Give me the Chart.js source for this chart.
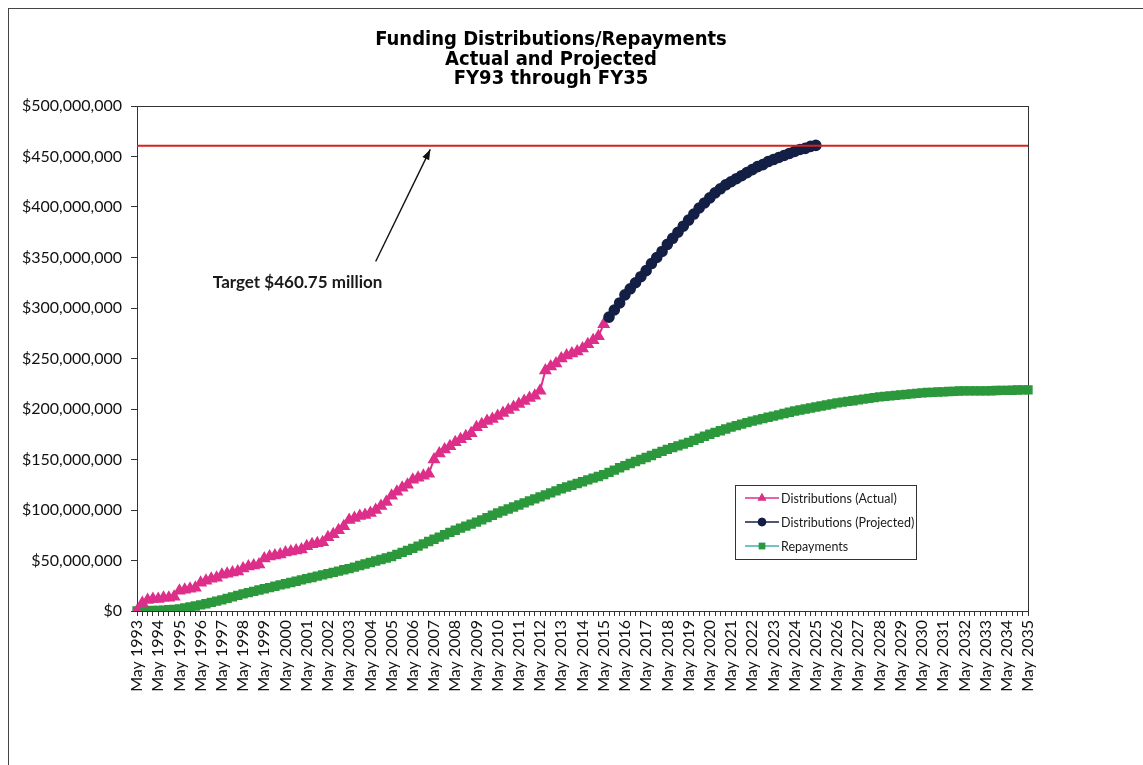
<!DOCTYPE html>
<html>
<head>
<meta charset="utf-8">
<title>Funding Distributions/Repayments</title>
<script src="https://cdn.jsdelivr.net/npm/chart.js@4.4.1/dist/chart.umd.min.js"></script>
<style>
  html, body { margin: 0; padding: 0; background: #fff; overflow: hidden; }
  #frame { position: absolute; left: 8px; top: 8px; width: 1200px; height: 800px;
           border-left: 1px solid #444; border-top: 1px solid #444; }
  #wrap { position: absolute; left: 0; top: 0; width: 1143px; height: 765px; }
</style>
</head>
<body>
<div id="frame"></div>
<div id="wrap"><canvas id="fundingChart"></canvas></div>
<script>
// quarterly periods, May 1993 .. May 2035
const firstYear = 1993;
const lastYear = 2035;
const quarterMonths = ['May', 'Aug', 'Nov', 'Feb'];

// values in millions of dollars, one row per fiscal year (May, Aug, Nov, Feb)
const actualDistributions = [
  0, 8, 11, 12,
  12, 13, 13, 14,
  20, 21, 22, 23,
  28, 30, 32, 33,
  36, 37, 38, 39,
  42, 44, 45, 46,
  52, 54, 55, 56,
  58, 59, 60, 61,
  64, 66, 67, 68,
  73, 76, 80, 84,
  90, 92, 94, 95,
  97, 100, 104, 108,
  114, 118, 122, 125,
  130, 132, 134, 136,
  150, 156, 160, 163,
  167, 170, 173, 176,
  182, 185, 188, 190,
  193, 196, 199, 202,
  205, 208, 211, 213,
  218, 238, 242, 245,
  250, 253, 255, 257,
  260, 264, 268, 272,
  284
];

// projected series starts the quarter after the last actual figure
const projectedStart = actualDistributions.length;
const projectedDistributions = [
  291, 298, 305,
  313, 319, 325, 331,
  337, 344, 350, 356,
  363, 369, 375, 381,
  387, 393, 399, 404,
  409, 414, 418, 422,
  425, 428, 431, 434,
  437, 440, 442, 445,
  447, 449, 451, 453,
  455, 457, 458, 460,
  461
];

const repayments = [
  0, 0.2, 0.4, 0.5,
  0.6, 0.9, 1.2, 1.6,
  2, 3, 4, 5,
  6, 7.2, 8.5, 9.8,
  11, 12.5, 14, 15.5,
  17, 18.2, 19.5, 20.8,
  22, 23.2, 24.5, 25.8,
  27, 28.2, 29.5, 30.8,
  32, 33.2, 34.5, 35.8,
  37, 38.2, 39.5, 40.8,
  42, 43.5, 45, 46.5,
  48, 49.5, 51, 52.5,
  54, 56, 58, 60,
  62, 64.2, 66.5, 68.8,
  71, 73.2, 75.5, 77.8,
  80, 82, 84, 86,
  88, 90.2, 92.5, 94.8,
  97, 99, 101, 103,
  105, 107, 109, 111,
  113, 115, 117, 119,
  121, 122.8, 124.5, 126.2,
  128, 129.8, 131.5, 133.2,
  135, 137.2, 139.5, 141.8,
  144, 146, 148, 150,
  152, 154, 156, 158,
  160, 161.8, 163.5, 165.2,
  167, 169, 171, 173,
  175, 176.8, 178.5, 180.2,
  182, 183.5, 185, 186.5,
  188, 189.2, 190.5, 191.8,
  193, 194.2, 195.5, 196.8,
  198, 199, 200, 201,
  202, 203, 204, 205,
  206, 206.8, 207.5, 208.2,
  209, 209.8, 210.5, 211.2,
  212, 212.5, 213, 213.5,
  214, 214.5, 215, 215.5,
  216, 216.3, 216.5, 216.8,
  217, 217.3, 217.5, 217.8,
  218, 218, 218, 218,
  218, 218.1, 218.3, 218.4,
  218.5, 218.6, 218.8, 218.9,
  219
];

const targetValue = 460.75;
const yTicks = [0, 50, 100, 150, 200, 250, 300, 350, 400, 450, 500];

const titleLines = ['Funding Distributions/Repayments', 'Actual and Projected', 'FY93 through FY35'];

// build quarter labels; Feb falls in the following calendar year
const labels = [];
for (let y = firstYear; y < lastYear; y++) {
  quarterMonths.forEach(m => labels.push(m + ' ' + (m === 'Feb' ? y + 1 : y)));
}
labels.push(quarterMonths[0] + ' ' + lastYear);

const actualData = labels.map((_, i) => i < actualDistributions.length ? actualDistributions[i] : null);
const projectedData = labels.map((_, i) => {
  const k = i - projectedStart;
  return k >= 0 && k < projectedDistributions.length ? projectedDistributions[k] : null;
});
const targetData = labels.map(() => targetValue);

const COLORS = {
  actual: '#dd2f8a',
  projected: '#141f45',
  repayLine: '#41b2ad',
  repayPoint: '#2c983c',
  target: '#d8201c'
};

const TICK_FONT = { family: 'Lato, "Open Sans", sans-serif', size: 16 };

// title, annotation, legend and plot frame
const decorations = {
  id: 'decorations',
  beforeDatasetsDraw(chart) {
    const { ctx, chartArea: a } = chart;
    ctx.save();
    ctx.strokeStyle = '#333';
    ctx.lineWidth = 1;
    ctx.strokeRect(a.left + 0.5, a.top + 0.5, a.right - a.left, a.bottom - a.top);
    ctx.restore();
  },
  afterDraw(chart) {
    const { ctx, scales: { x, y } } = chart;
    ctx.save();

    // title
    ctx.fillStyle = '#000';
    ctx.font = 'bold 20px "DejaVu Sans Condensed", "DejaVu Sans", sans-serif';
    ctx.textAlign = 'center';
    ctx.textBaseline = 'middle';
    titleLines.forEach((t, i) => ctx.fillText(t, 551, 40 + i * 19.5));

    // target arrow + label
    const tailX = x.getPixelForValue(45), tailY = y.getPixelForValue(346);
    const headX = x.getPixelForValue(55.3), headY = y.getPixelForValue(457);
    ctx.strokeStyle = '#111';
    ctx.fillStyle = '#111';
    ctx.lineWidth = 1.4;
    ctx.beginPath();
    ctx.moveTo(tailX, tailY);
    ctx.lineTo(headX, headY);
    ctx.stroke();
    const ang = Math.atan2(headY - tailY, headX - tailX);
    ctx.beginPath();
    ctx.moveTo(headX, headY);
    ctx.lineTo(headX - 11 * Math.cos(ang - 0.35), headY - 11 * Math.sin(ang - 0.35));
    ctx.lineTo(headX - 11 * Math.cos(ang + 0.35), headY - 11 * Math.sin(ang + 0.35));
    ctx.closePath();
    ctx.fill();

    ctx.font = 'bold 17px Lato, "Open Sans", sans-serif';
    ctx.textAlign = 'left';
    ctx.fillStyle = '#1a1a1a';
    ctx.fillText('Target $' + targetValue.toFixed(2) + ' million', x.getPixelForValue(14.3), y.getPixelForValue(325));

    // legend box
    const lx = 735, ly = 485, lw = 181, lh = 74;
    ctx.fillStyle = '#fff';
    ctx.fillRect(lx, ly, lw, lh);
    ctx.strokeStyle = '#333';
    ctx.lineWidth = 1;
    ctx.strokeRect(lx + 0.5, ly + 0.5, lw, lh);

    const items = chart.data.datasets.filter(d => d.inLegend);
    ctx.font = '12.5px Lato, "Open Sans", sans-serif';
    ctx.textBaseline = 'middle';
    items.forEach((d, i) => {
      const cy = ly + 13 + i * 24;
      ctx.strokeStyle = d.borderColor;
      ctx.lineWidth = 1.5;
      ctx.beginPath();
      ctx.moveTo(lx + 10, cy);
      ctx.lineTo(lx + 44, cy);
      ctx.stroke();
      Chart.helpers.drawPoint(ctx, {
        pointStyle: d.pointStyle,
        radius: 3.5,
        rotation: 0,
        borderWidth: 1
      }, lx + 27, cy);
      ctx.fillStyle = d.pointBackgroundColor;
      ctx.strokeStyle = d.pointBorderColor;
      ctx.fill();
      ctx.stroke();
      ctx.fillStyle = '#1a1a1a';
      ctx.fillText(d.label, lx + 46, cy + 1);
    });
    ctx.restore();
  }
};

const ctx = document.getElementById('fundingChart').getContext('2d');

new Chart(ctx, {
  type: 'line',
  data: {
    labels: labels,
    datasets: [
      {
        label: 'Target',
        data: targetData,
        borderColor: COLORS.target,
        borderWidth: 2,
        pointRadius: 0,
        order: 0
      },
      {
        label: 'Distributions (Actual)',
        inLegend: true,
        data: actualData,
        borderColor: COLORS.actual,
        borderWidth: 2,
        pointStyle: 'triangle',
        pointRadius: 5.5,
        pointBackgroundColor: COLORS.actual,
        pointBorderColor: COLORS.actual,
        order: 2
      },
      {
        label: 'Distributions (Projected)',
        inLegend: true,
        data: projectedData,
        borderColor: COLORS.projected,
        borderWidth: 2,
        pointStyle: 'circle',
        pointRadius: 4.8,
        pointBackgroundColor: COLORS.projected,
        pointBorderColor: COLORS.projected,
        order: 1
      },
      {
        label: 'Repayments',
        inLegend: true,
        data: repayments,
        borderColor: COLORS.repayLine,
        borderWidth: 2,
        pointStyle: 'rect',
        pointRadius: 5.2,
        pointBackgroundColor: COLORS.repayPoint,
        pointBorderColor: COLORS.repayPoint,
        order: 3
      }
    ]
  },
  options: {
    responsive: true,
    maintainAspectRatio: false,
    animation: false,
    spanGaps: false,
    layout: { padding: { left: 0, right: 115, top: 106, bottom: 0 } },
    plugins: {
      legend: { display: false },
      title: { display: false },
      tooltip: { enabled: false }
    },
    scales: {
      x: {
        type: 'category',
        offset: false,
        afterFit(scale) { scale.height = 154; },
        grid: { drawOnChartArea: false, drawTicks: true, tickLength: 5, color: '#333' },
        border: { display: true, color: '#333' },
        ticks: {
          autoSkip: false,
          maxRotation: 90,
          minRotation: 90,
          padding: 4,
          color: '#111',
          font: TICK_FONT,
          callback: function (value, index) {
            return index % 4 === 0 ? this.getLabelForValue(value) : '';
          }
        }
      },
      y: {
        min: 0,
        max: 500,
        afterFit(scale) { scale.width = 137; },
        afterBuildTicks(scale) { scale.ticks = yTicks.map(v => ({ value: v })); },
        grid: { drawOnChartArea: false, drawTicks: true, tickLength: 6, color: '#333' },
        border: { display: true, color: '#333' },
        ticks: {
          padding: 9,
          color: '#111',
          font: TICK_FONT,
          callback: v => '$' + (v * 1e6).toLocaleString('en-US')
        }
      }
    }
  },
  plugins: [decorations]
});
</script>
</body>
</html>
